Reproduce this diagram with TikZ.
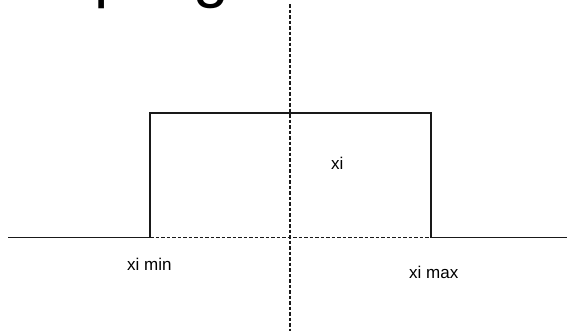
\documentclass[tikz,border=0pt]{standalone}
\usepackage{fontspec}
\setmainfont{Liberation Sans}
\begin{document}
\begin{tikzpicture}[x=1pt,y=-1pt,
  solidline/.style={line width=1.4pt, black!90},
  dashline/.style={line width=1.3pt, black!90, dash pattern=on 3.5pt off 2pt},
  lbl/.style={inner sep=0pt, anchor=base west, font=\fontsize{17}{19}\selectfont},
  big/.style={inner sep=0pt, anchor=base west, font=\fontsize{64}{70}\selectfont}]
\useasboundingbox (0,0) rectangle (567,332);
\coordinate (L) at (8,237.5);
\coordinate (R) at (567,237.5);
\coordinate (BL) at (150,237.5);
\coordinate (TL) at (150,113);
\coordinate (TR) at (431,113);
\coordinate (BR) at (431,237.5);
\coordinate (VT) at (290,4);
\coordinate (VB) at (290,331);
\draw[solidline] (L) -- (BL) -- (TL) -- (TR) -- (BR) -- (R);
\draw[dashline] (BL) -- (BR);
\draw[dashline] (VT) -- (VB);
\node[lbl] (xi) at (331,169) {xi};
\node[lbl] (ximin) at (127,270) {xi min};
\node[lbl] (ximax) at (409,278) {xi max};
\node[big] (p) at (94,-4.5) {p};
\node[big] (g) at (193.6,-4.5) {g};
\end{tikzpicture}
\end{document}
